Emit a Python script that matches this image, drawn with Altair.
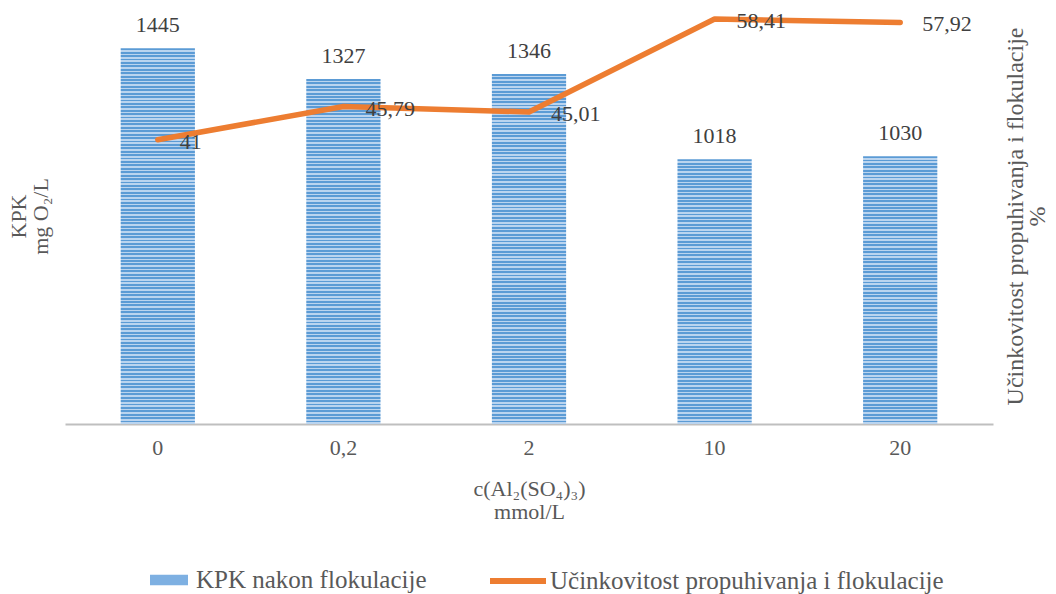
import altair as alt
import pandas as pd

# ---- data ----
categories = ["0", "0,2", "2", "10", "20"]
kpk = [1445, 1327, 1346, 1018, 1030]
efficiency = [41, 45.79, 45.01, 58.41, 57.92]

BAR_SERIES = "KPK nakon flokulacije"
LINE_SERIES = "Učinkovitost propuhivanja i flokulacije"


def fmt(v):
    return f"{v:g}".replace(".", ",")


df = pd.DataFrame({
    "c": categories,
    "kpk": kpk,
    "eff": efficiency,
    "eff_label": [fmt(v) for v in efficiency],
    "bar_series": BAR_SERIES,
    "line_series": LINE_SERIES,
})

FONT = "Liberation Serif"
DARK = "#5B9BD5"
LIGHT = "#BAD4EF"
MID = "#7EB0E2"
ORANGE = "#ED7D31"
TXT = "#595959"
LBL = "#404040"
PLOT_W, PLOT_H = 928, 416
KPK_MAX, EFF_MAX = 1600, 60
STRIPE_PX = 3.4


def stripes(n, frac=0.55):
    stops = []
    for i in range(n):
        a, b, c = i / n, (i + frac) / n, (i + 1) / n
        stops += [
            {"offset": round(a, 5), "color": DARK},
            {"offset": round(b, 5), "color": DARK},
            {"offset": round(b, 5), "color": LIGHT},
            {"offset": round(c, 5), "color": LIGHT},
        ]
    return {"gradient": "linear", "x1": 0, "y1": 0, "x2": 0, "y2": 1, "stops": stops}


x_enc = alt.X(
    "c:N",
    sort=categories,
    scale=alt.Scale(paddingInner=0.6, paddingOuter=0.3),
    axis=alt.Axis(
        title=["c(Al₂(SO₄)₃)", "mmol/L"],
        labelAngle=0,
        ticks=False,
        grid=False,
        domainColor="#BFBFBF",
        domainWidth=2,
        labelFont=FONT,
        labelFontSize=22,
        labelColor=TXT,
        labelPadding=13,
        titleFont=FONT,
        titleFontSize=22,
        titleFontWeight="normal",
        titleColor=TXT,
        titlePadding=20,
        titleLineHeight=23,
    ),
)

y_left = alt.Y(
    "kpk:Q",
    scale=alt.Scale(domain=[0, KPK_MAX], nice=False),
    axis=alt.Axis(
        title=["KPK", "mg O₂/L"],
        labels=False,
        ticks=False,
        domain=False,
        grid=False,
        titleFont=FONT,
        titleFontSize=22,
        titleFontWeight="normal",
        titleColor=TXT,
        titlePadding=13,
        titleLineHeight=22,
    ),
)

y_right = alt.Y(
    "eff:Q",
    scale=alt.Scale(domain=[0, EFF_MAX], nice=False),
    axis=alt.Axis(
        orient="right",
        title=[LINE_SERIES, "%"],
        titleAngle=270,
        titleBaseline="top",
        labels=False,
        ticks=False,
        domain=False,
        grid=False,
        titleFont=FONT,
        titleFontSize=24,
        titleFontWeight="normal",
        titleColor=TXT,
        titlePadding=-12,
        titleLineHeight=22,
    ),
)

# striped bars, one layer per category so the stripe pitch stays constant
bar_layers = []
for cat, val in zip(categories, kpk):
    n = max(1, round(val / KPK_MAX * PLOT_H / STRIPE_PX))
    bar_layers.append(
        alt.Chart()
        .mark_bar(fill=stripes(n))
        .encode(x=x_enc, y=y_left)
        .transform_filter(alt.datum.c == cat)
    )

bar_text = alt.Chart().mark_text(
    baseline="bottom", dy=-11, font=FONT, fontSize=22, color=LBL
).encode(x=x_enc, y=y_left, text="kpk:Q")

bar_legend_layer = alt.Chart().mark_bar(opacity=0).encode(
    x=x_enc,
    y=y_left,
    fill=alt.Fill(
        "bar_series:N",
        scale=alt.Scale(domain=[BAR_SERIES], range=[MID]),
        legend=alt.Legend(
            title=None,
            orient="none",
            legendX=85,
            legendY=553,
            symbolType="M-1,-0.27H1V0.27H-1Z",
            symbolSize=1444,
            symbolOpacity=1,
            symbolStrokeWidth=0,
            labelFont=FONT,
            labelFontSize=25,
            labelColor=TXT,
            labelOffset=8,
            labelLimit=800,
        ),
    ),
)

bars = alt.layer(*bar_layers, bar_text, bar_legend_layer)

line = alt.Chart().mark_line(
    strokeWidth=5.5, strokeCap="round", strokeJoin="round"
).encode(
    x=x_enc,
    y=y_right,
    stroke=alt.Stroke(
        "line_series:N",
        scale=alt.Scale(domain=[LINE_SERIES], range=[ORANGE]),
        legend=alt.Legend(
            title=None,
            orient="none",
            legendX=422,
            legendY=542,
            symbolType="stroke",
            symbolSize=3136,
            symbolStrokeWidth=6,
            labelFont=FONT,
            labelFontSize=25,
            labelColor=TXT,
            labelOffset=1,
            labelLimit=800,
        ),
    ),
)

line_text = alt.Chart().mark_text(
    align="left", baseline="middle", dx=22, dy=2, font=FONT, fontSize=22, color=LBL
).encode(x=x_enc, y=y_right, text="eff_label:N")

lines = alt.layer(line, line_text)

chart = (
    alt.layer(bars, lines, data=df)
    .resolve_scale(y="independent")
    .properties(
        width=PLOT_W,
        height=PLOT_H,
        padding={"left": 57, "top": 0, "right": 55, "bottom": 170},
        autosize=alt.AutoSizeParams(type="none"),
        background="white",
    )
    .configure_view(stroke=None)
)

chart.save("out.html", embed_options={"renderer": "svg", "actions": False})
